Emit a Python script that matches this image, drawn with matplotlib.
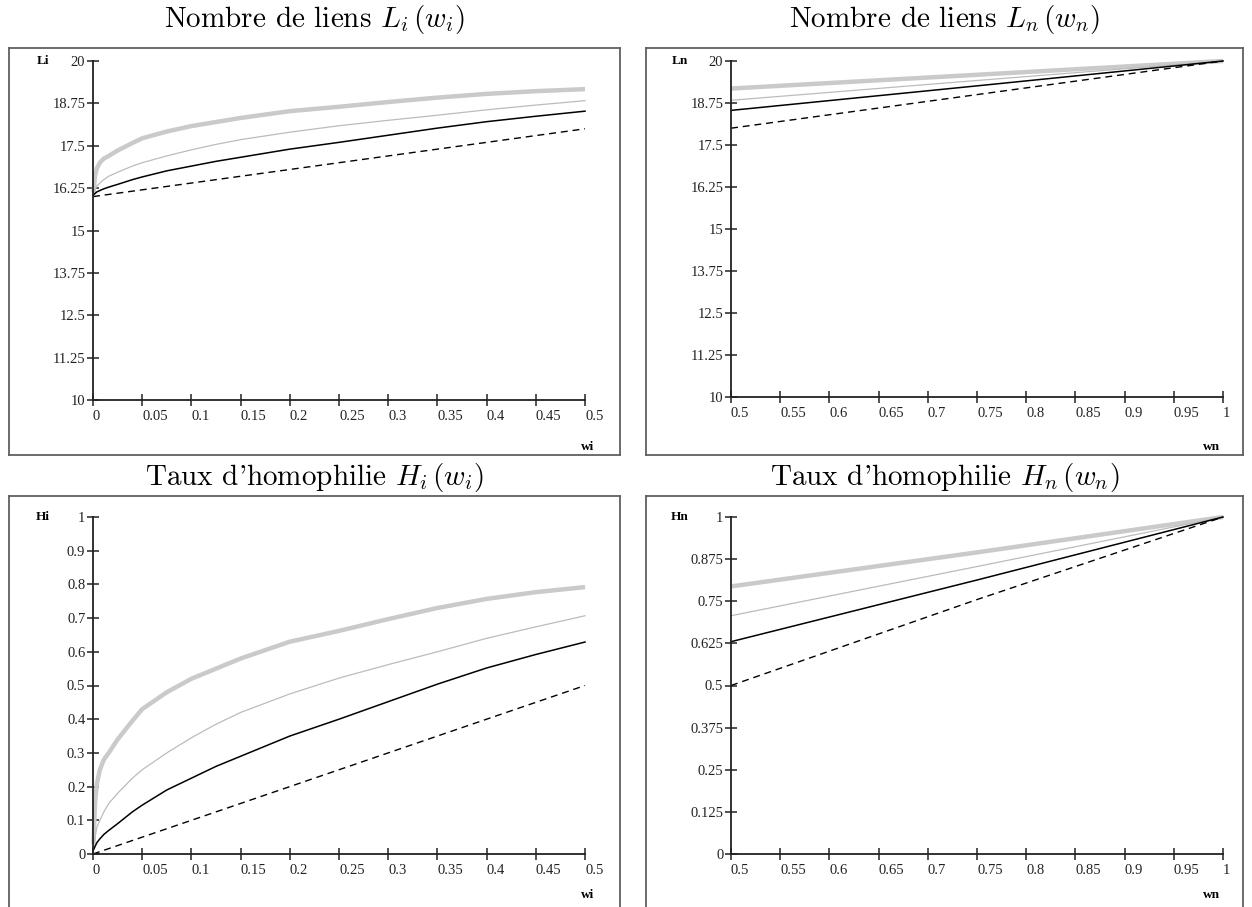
import numpy as np
from matplotlib import pyplot as plt

plt.rcParams['mathtext.fontset'] = 'cm'

# ---- data ----
wi = [0.0005, 0.002, 0.004, 0.007, 0.011, 0.016, 0.025, 0.04, 0.05, 0.075,
      0.1, 0.125, 0.15, 0.2, 0.25, 0.3, 0.35, 0.4, 0.45, 0.5]
wi_dash = [0.0, 0.5]

hi_thick = [0.03, 0.15, 0.21, 0.25, 0.28, 0.30, 0.34, 0.395, 0.43, 0.48,
            0.52, 0.55, 0.58, 0.63, 0.662, 0.697, 0.73, 0.757, 0.777, 0.792]
hi_light = [0.02, 0.05, 0.08, 0.10, 0.125, 0.15, 0.18, 0.225, 0.25, 0.30,
            0.345, 0.385, 0.42, 0.475, 0.522, 0.562, 0.60, 0.64, 0.674, 0.707]
hi_black = [0.012, 0.022, 0.034, 0.045, 0.058, 0.07, 0.09, 0.125, 0.145, 0.19,
            0.225, 0.26, 0.29, 0.35, 0.40, 0.452, 0.504, 0.552, 0.592, 0.629]
hi_dash = [0.0, 0.5]

li_thick = [16.12, 16.6, 16.84, 17.0, 17.12, 17.2, 17.36, 17.58, 17.72, 17.92,
            18.08, 18.2, 18.32, 18.52, 18.65, 18.79, 18.92, 19.03, 19.11, 19.17]
li_light = [16.08, 16.2, 16.32, 16.4, 16.5, 16.6, 16.72, 16.9, 17.0, 17.2,
            17.38, 17.54, 17.68, 17.9, 18.09, 18.25, 18.4, 18.56, 18.7, 18.83]
li_black = [16.05, 16.09, 16.14, 16.18, 16.23, 16.28, 16.36, 16.5, 16.58, 16.76,
            16.9, 17.04, 17.16, 17.4, 17.6, 17.81, 18.02, 18.21, 18.37, 18.52]
li_dash = [16.0, 18.0]

wn = [0.5, 0.75, 1.0]
hn_thick = [0.794, 0.895, 1.0]
hn_light = [0.707, 0.853, 1.0]
hn_black = [0.63, 0.813, 1.0]
hn_dash = [0.5, 0.755, 1.0]

ln_thick = [19.18, 19.59, 20.0]
ln_light = [18.83, 19.42, 20.0]
ln_black = [18.53, 19.26, 20.0]
ln_dash = [18.0, 19.0, 20.0]

x_ticks_i = [0, 0.05, 0.1, 0.15, 0.2, 0.25, 0.3, 0.35, 0.4, 0.45, 0.5]
x_labels_i = ['0', '0.05', '0.1', '0.15', '0.2', '0.25', '0.3', '0.35', '0.4', '0.45', '0.5']
x_ticks_n = [0.5, 0.55, 0.6, 0.65, 0.7, 0.75, 0.8, 0.85, 0.9, 0.95, 1.0]
x_labels_n = ['0.5', '0.55', '0.6', '0.65', '0.7', '0.75', '0.8', '0.85', '0.9', '0.95', '1']
y_ticks_l = [10, 11.25, 12.5, 13.75, 15, 16.25, 17.5, 18.75, 20]
y_labels_l = ['10', '11.25', '12.5', '13.75', '15', '16.25', '17.5', '18.75', '20']
y_ticks_hi = [0, 0.1, 0.2, 0.3, 0.4, 0.5, 0.6, 0.7, 0.8, 0.9, 1]
y_labels_hi = ['0', '0.1', '0.2', '0.3', '0.4', '0.5', '0.6', '0.7', '0.8', '0.9', '1']
y_ticks_hn = [0, 0.125, 0.25, 0.375, 0.5, 0.625, 0.75, 0.875, 1]
y_labels_hn = ['0', '0.125', '0.25', '0.375', '0.5', '0.625', '0.75', '0.875', '1']

W, H = 1252, 907
fig = plt.figure(figsize=(W / 100, H / 100), dpi=100)


def px_box(x0, y0, x1, y1):
    return [x0 / W, 1 - y1 / H, (x1 - x0) / W, (y1 - y0) / H]


def panel(frame, inner, title, title_y, xs, series, xdash, ydash, xlim, ylim,
          xticks, xlabels, yticks, ylabels, ylab, xlab):
    fx0, fy0, fx1, fy1 = frame
    # outer frame
    fr = fig.add_axes(px_box(*frame))
    fr.set_xticks([])
    fr.set_yticks([])
    for s in fr.spines.values():
        s.set_color('#606060')
        s.set_linewidth(1.3)
    fr.patch.set_alpha(0)
    fig.text(((fx0 + fx1) / 2) / W, 1 - title_y / H,
             title, ha='center', va='center', fontsize=21,
             family=['cmr10', 'DejaVu Serif'])

    ax = fig.add_axes(px_box(*inner))
    thick, light, black = series
    ax.plot(xs, thick, color='#cacaca', lw=3.2, solid_capstyle='butt', clip_on=False)
    ax.plot(xs, light, color='#bcbcbc', lw=0.9, clip_on=False)
    ax.plot(xs, black, color='black', lw=1.1, clip_on=False)
    ax.plot(xdash, ydash, color='black', lw=1.0, dashes=(5, 3.5), clip_on=False)
    ax.set_xlim(*xlim)
    ax.set_ylim(*ylim)
    ax.patch.set_alpha(0)
    for side in ['top', 'right']:
        ax.spines[side].set_visible(False)
    for side in ['left', 'bottom']:
        ax.spines[side].set_color('#222222')
        ax.spines[side].set_linewidth(1.3)
    ax.set_xticks(xticks)
    ax.set_xticklabels(xlabels, family='Liberation Serif', fontsize=10.5, color='#222222')
    ax.set_yticks(yticks)
    ax.set_yticklabels(ylabels, family='Liberation Serif', fontsize=10.5, color='#222222')
    ax.tick_params(direction='inout', length=9, width=1.1, color='#222222')
    ax.tick_params(axis='x', pad=3)
    ax.tick_params(axis='y', pad=1)
    for lab in ax.get_xticklabels():
        lab.set_ha('left')

    ix0, iy0, ix1, iy1 = inner
    fig.text((fx0 + 34) / W, 1 - iy0 / H, ylab, ha='center', va='center',
             fontsize=9.5, fontweight='bold', family='Liberation Serif')
    fig.text((fx1 - 32) / W, 1 - (fy0 + 399) / H, xlab, ha='center', va='center',
             fontsize=9.5, fontweight='bold', family='Liberation Serif')


panel((9, 48, 620, 455), (93, 61, 585, 400), r'Nombre de liens $L_i\,(w_i)$', 19,
      wi, (li_thick, li_light, li_black), wi_dash, li_dash, (0, 0.5), (10, 20),
      x_ticks_i, x_labels_i, y_ticks_l, y_labels_l, 'Li', 'wi')
panel((646, 48, 1243, 455), (731, 61, 1223, 397), r'Nombre de liens $L_n\,(w_n)$', 19,
      wn, (ln_thick, ln_light, ln_black), wn, ln_dash, (0.5, 1.0), (10, 20),
      x_ticks_n, x_labels_n, y_ticks_l, y_labels_l, 'Ln', 'wn')
panel((9, 496, 620, 912), (93, 517, 585, 854), r"Taux d'homophilie $H_i\,(w_i)$", 477,
      wi, (hi_thick, hi_light, hi_black), wi_dash, hi_dash, (0, 0.5), (0, 1),
      x_ticks_i, x_labels_i, y_ticks_hi, y_labels_hi, 'Hi', 'wi')
panel((646, 496, 1243, 912), (731, 517, 1223, 854), r"Taux d'homophilie $H_n\,(w_n)$", 477,
      wn, (hn_thick, hn_light, hn_black), wn, hn_dash, (0.5, 1.0), (0, 1),
      x_ticks_n, x_labels_n, y_ticks_hn, y_labels_hn, 'Hn', 'wn')

fig.savefig('out.png', dpi=100)
